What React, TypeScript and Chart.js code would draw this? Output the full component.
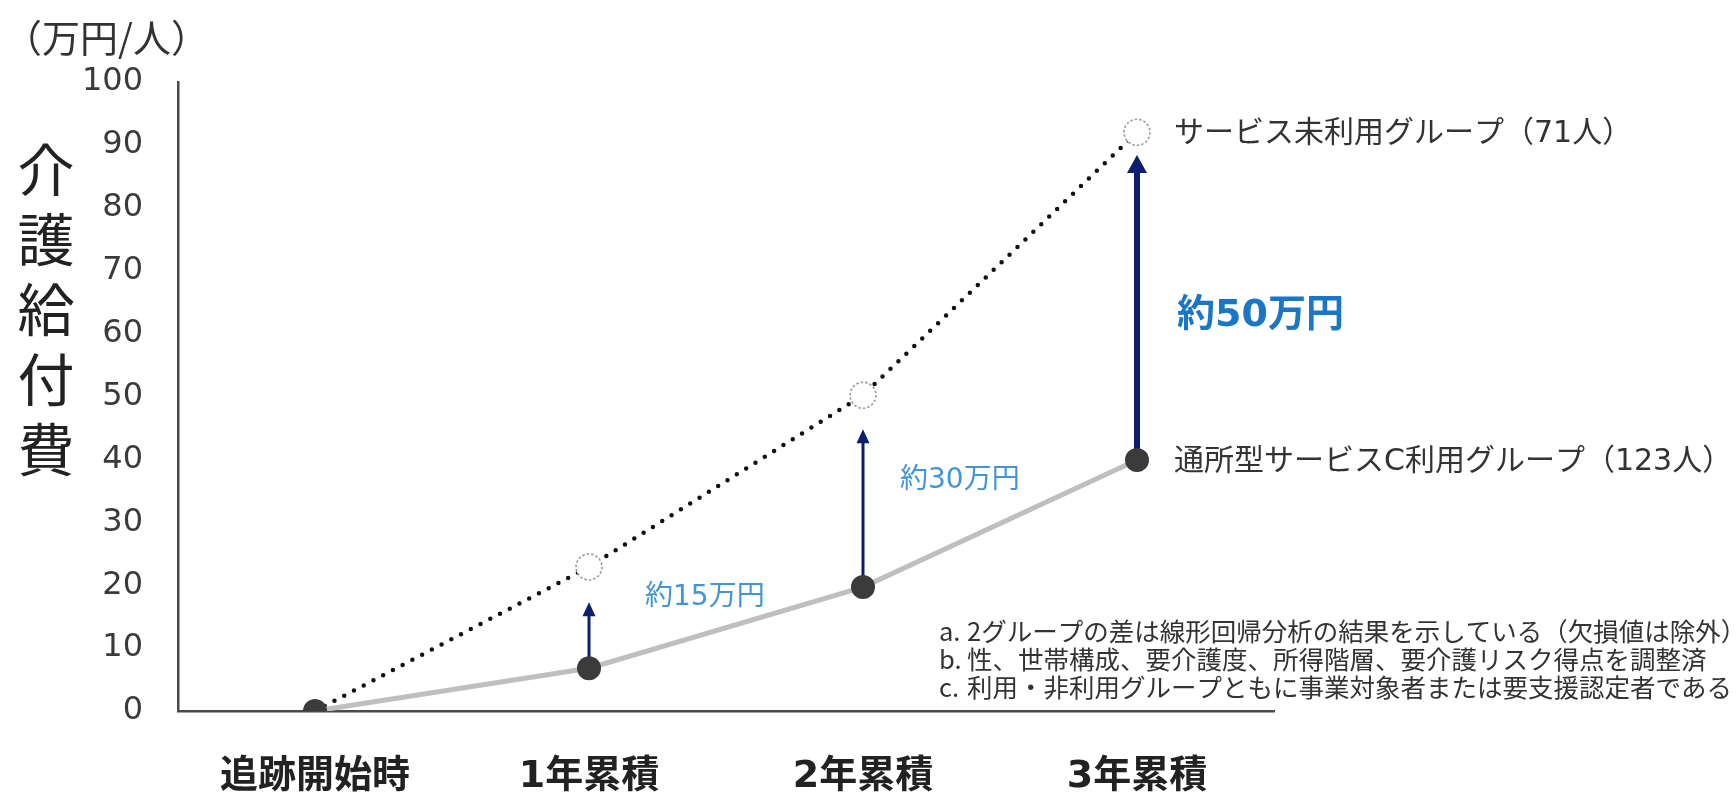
import React, { useEffect, useRef } from "react";
import { Chart, registerables } from "chart.js";

Chart.register(...registerables);

// ---- data ----
const categories = ["追跡開始時", "1年累積", "2年累積", "3年累積"];
const usedValues = [0, 6.8, 19.7, 39.9];
const nonUsedValues = [0, 22.9, 50.2, 92.0];
const arrowTips: (number | null)[] = [null, 17.3, 44.8, 88.4];
const diffLabels = ["", "約15万円", "約30万円", "約50万円"];
const yMin = 0;
const yMax = 100;
const yStep = 10;
const usedName = "通所型サービスC利用グループ（123人）";
const nonUsedName = "サービス未利用グループ（71人）";
const unitLabel = "（万円/人）";
const yTitleChars = ["介", "護", "給", "付", "費"];
const footMarks = ["a.", "b.", "c."];
const footTexts = [
  "2グループの差は線形回帰分析の結果を示している（欠損値は除外）",
  "性、世帯構成、要介護度、所得階層、要介護リスク得点を調整済",
  "利用・非利用グループともに事業対象者または要支援認定者である",
];

const JP = '"Noto Sans CJK JP", sans-serif';
const MIX = '"DejaVu Sans", "Noto Sans CJK JP", sans-serif';

const annotPlugin = {
  id: "annot",
  beforeDatasetsDraw(chart: any) {
    const ctx = chart.ctx;
    const xs = chart.scales.x;
    const ys = chart.scales.y;
    arrowTips.forEach((tip, i) => {
      if (tip == null) return;
      const px = xs.getPixelForValue(i);
      const y0 = ys.getPixelForValue(usedValues[i]);
      const y1 = ys.getPixelForValue(tip);
      const thick = i === 3;
      const lw = thick ? 6 : 3;
      const hw = thick ? 10 : 6.5;
      const hh = thick ? 18 : 14;
      ctx.save();
      ctx.strokeStyle = "#0c1f6e";
      ctx.fillStyle = "#0c1f6e";
      ctx.lineWidth = lw;
      ctx.beginPath();
      ctx.moveTo(px, y0);
      ctx.lineTo(px, y1 + hh - 2);
      ctx.stroke();
      ctx.beginPath();
      ctx.moveTo(px, y1);
      ctx.lineTo(px - hw, y1 + hh);
      ctx.lineTo(px + hw, y1 + hh);
      ctx.closePath();
      ctx.fill();
      ctx.restore();
    });
  },
  afterDatasetsDraw(chart: any) {
    const ctx = chart.ctx;
    const xs = chart.scales.x;
    const ys = chart.scales.y;
    // dashed rings for open circles
    const meta = chart.getDatasetMeta(1);
    meta.data.forEach((pt: any, i: number) => {
      if (i === 0) return;
      ctx.save();
      ctx.beginPath();
      ctx.arc(pt.x, pt.y, 13, 0, Math.PI * 2);
      ctx.fillStyle = "#ffffff";
      ctx.fill();
      ctx.setLineDash([2.5, 2]);
      ctx.strokeStyle = "#9a9a9a";
      ctx.lineWidth = 1.6;
      ctx.stroke();
      ctx.restore();
    });

    ctx.save();
    ctx.textBaseline = "middle";
    ctx.textAlign = "left";
    // difference labels
    const offs = [null, { dx: 56, dy: -71 }, { dx: 37, dy: -106 }, { dx: 40, dy: -144 }];
    diffLabels.forEach((t, i) => {
      const o = offs[i];
      if (!t || !o) return;
      const px = xs.getPixelForValue(i);
      const py = ys.getPixelForValue(usedValues[i]);
      if (i === 3) {
        ctx.font = `bold 38px ${MIX}`;
        ctx.fillStyle = "#1a76c6";
      } else {
        ctx.font = `28px ${MIX}`;
        ctx.fillStyle = "#4393d6";
      }
      ctx.fillText(t, px + o.dx, py + o.dy);
    });

    // series labels
    const last = categories.length - 1;
    const lx = xs.getPixelForValue(last) + 37;
    ctx.font = `30px ${MIX}`;
    ctx.fillStyle = "#333333";
    ctx.fillText(nonUsedName, lx, ys.getPixelForValue(nonUsedValues[last]) + 2);
    ctx.fillText(usedName, lx, ys.getPixelForValue(usedValues[last]) + 2);

    // footnotes
    ctx.font = `25.5px ${JP}`;
    ctx.fillStyle = "#333333";
    footTexts.forEach((t, i) => {
      const fy = 631 + i * 28;
      ctx.fillText(footMarks[i], 939, fy);
      ctx.fillText(t, 967, fy);
    });

    // unit label
    ctx.font = `38px ${JP}`;
    ctx.fillStyle = "#333333";
    ctx.fillText(unitLabel, 4, 38);

    // vertical y title
    ctx.font = `57px ${JP}`;
    ctx.fillStyle = "#222222";
    ctx.textAlign = "center";
    yTitleChars.forEach((c, i) => {
      ctx.fillText(c, 46, 169 + i * 70);
    });
    ctx.restore();
  },
};

export default function App() {
  const ref = useRef<HTMLCanvasElement | null>(null);
  useEffect(() => {
    if (!ref.current) return;
    const chart = new Chart(ref.current, {
      type: "line",
      data: {
        labels: categories,
        datasets: [
          {
            label: usedName,
            data: usedValues,
            borderColor: "#bfbfbf",
            borderWidth: 5,
            tension: 0,
            pointRadius: 12,
            pointBackgroundColor: "#3b3b3b",
            pointBorderWidth: 0,
            pointBorderColor: "#3b3b3b",
          },
          {
            label: nonUsedName,
            data: nonUsedValues,
            borderColor: "#111111",
            borderWidth: 4.5,
            borderDash: [0, 11],
            borderCapStyle: "round",
            tension: 0,
            pointRadius: [0, 13, 13, 13],
            pointBackgroundColor: "#ffffff",
            pointBorderWidth: 0,
          },
        ],
      },
      options: {
        animation: false,
        responsive: false,
        maintainAspectRatio: false,
        layout: { padding: { top: 82, right: 462, bottom: 0, left: 0 } },
        plugins: { legend: { display: false }, tooltip: { enabled: false } },
        scales: {
          x: {
            type: "category",
            offset: true,
            grid: { display: false, drawTicks: false },
            border: { display: true, color: "#4a4a4a", width: 2.5 },
            ticks: {
              font: { family: MIX, size: 38, weight: "bold" },
              color: "#222222",
              padding: 43,
              maxRotation: 0,
              autoSkip: false,
            },
            afterFit: (s: any) => {
              s.height = 81;
            },
          },
          y: {
            min: yMin,
            max: yMax,
            grid: { display: false, drawTicks: false },
            border: { display: true, color: "#4a4a4a", width: 2.5 },
            ticks: {
              stepSize: yStep,
              font: { family: '"DejaVu Sans", sans-serif', size: 32 },
              color: "#3a3a3a",
              padding: 35,
            },
            afterFit: (s: any) => {
              s.width = 178;
            },
          },
        },
      },
      plugins: [annotPlugin],
    } as any);
    return () => chart.destroy();
  }, []);
  return (
    <div style={{ position: "absolute", left: 0, top: 0, width: 1736, height: 792, background: "#fff" }}>
      <canvas ref={ref} width={1736} height={792} style={{ display: "block" }} />
    </div>
  );
}
